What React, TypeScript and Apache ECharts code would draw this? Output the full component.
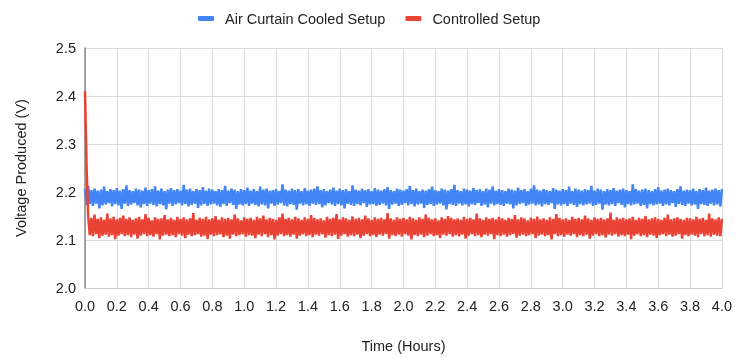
import React, { useEffect, useRef } from "react";
import * as echarts from "echarts";

const sampleStepHours = 0.01;

const airCurtainVoltage = [
  2.206,2.173,2.213,2.175,2.204,2.171,2.207,2.176,2.203,2.166,2.205,2.172,2.211,2.174,2.202,2.177,2.206,2.170,2.204,2.175,
  2.208,2.172,2.203,2.165,2.206,2.176,2.214,2.171,2.204,2.174,2.202,2.177,2.207,2.172,2.205,2.168,2.203,2.175,2.209,2.171,
  2.204,2.176,2.206,2.173,2.212,2.170,2.203,2.175,2.207,2.172,2.202,2.164,2.205,2.176,2.208,2.171,2.204,2.174,2.206,2.177,
  2.203,2.172,2.215,2.175,2.205,2.170,2.207,2.173,2.202,2.176,2.206,2.167,2.204,2.172,2.210,2.175,2.203,2.171,2.207,2.174,
  2.205,2.176,2.202,2.172,2.206,2.169,2.204,2.175,2.213,2.171,2.203,2.177,2.207,2.173,2.205,2.165,2.202,2.174,2.206,2.172,
  2.204,2.175,2.209,2.171,2.203,2.176,2.206,2.173,2.202,2.170,2.211,2.174,2.205,2.172,2.207,2.166,2.203,2.176,2.204,2.171,
  2.206,2.174,2.202,2.177,2.216,2.172,2.205,2.170,2.203,2.175,2.207,2.173,2.204,2.163,2.206,2.176,2.202,2.172,2.208,2.174,
  2.203,2.171,2.205,2.176,2.207,2.173,2.212,2.175,2.204,2.168,2.206,2.172,2.202,2.177,2.205,2.174,2.209,2.171,2.203,2.175,
  2.207,2.172,2.204,2.166,2.206,2.176,2.202,2.173,2.214,2.171,2.205,2.175,2.203,2.172,2.207,2.177,2.204,2.169,2.206,2.174,
  2.202,2.175,2.208,2.171,2.205,2.173,2.203,2.176,2.206,2.172,2.210,2.165,2.204,2.174,2.202,2.176,2.207,2.171,2.205,2.173,
  2.203,2.177,2.206,2.172,2.213,2.175,2.204,2.170,2.207,2.174,2.202,2.176,2.205,2.167,2.203,2.173,2.206,2.175,2.211,2.171,
  2.204,2.174,2.202,2.176,2.207,2.172,2.205,2.164,2.203,2.175,2.206,2.173,2.215,2.171,2.204,2.176,2.202,2.172,2.207,2.174,
  2.205,2.170,2.203,2.175,2.208,2.173,2.204,2.177,2.206,2.171,2.202,2.174,2.207,2.168,2.205,2.176,2.212,2.172,2.203,2.175,
  2.206,2.173,2.204,2.171,2.202,2.176,2.207,2.174,2.205,2.166,2.203,2.172,2.209,2.175,2.204,2.177,2.206,2.171,2.202,2.174,
  2.207,2.176,2.214,2.172,2.205,2.174,2.203,2.170,2.206,2.175,2.204,2.173,2.202,2.177,2.208,2.165,2.205,2.174,2.203,2.172,
  2.206,2.175,2.204,2.171,2.211,2.176,2.202,2.173,2.207,2.169,2.205,2.175,2.203,2.172,2.206,2.174,2.204,2.176,2.213,2.171,
  2.203,2.173,2.207,2.176,2.205,2.163,2.202,2.174,2.206,2.172,2.204,2.175,2.208,2.171,2.203,2.177,2.205,2.173,2.207,2.168,
  2.204,2.175,2.202,2.172,2.216,2.174,2.206,2.176,2.203,2.171,2.205,2.173,2.207,2.166,2.204,2.175,2.202,2.172,2.206,2.174,
  2.210,2.176,2.203,2.171,2.205,2.174,2.207,2.172,2.204,2.177,2.202,2.169,2.206,2.175,2.212,2.173,2.203,2.171,2.205,2.176,
  2.204,2.172,2.207,2.174,2.202,2.165,2.206,2.175,2.204,2.173,2.209,2.171,2.203,2.176,2.205,2.172,2.207,2.174,2.204,2.170,
  2.206,
];

const controlledVoltage = [
  2.410,2.250,2.150,2.110,2.146,2.108,2.153,2.112,2.144,2.104,2.147,2.109,2.142,2.111,2.155,2.107,2.145,2.110,2.148,2.102,
  2.143,2.109,2.146,2.112,2.151,2.108,2.144,2.110,2.147,2.106,2.142,2.111,2.145,2.103,2.148,2.109,2.143,2.112,2.154,2.108,
  2.146,2.110,2.141,2.107,2.147,2.112,2.144,2.101,2.145,2.109,2.152,2.111,2.143,2.108,2.146,2.110,2.142,2.106,2.148,2.112,
  2.144,2.109,2.147,2.104,2.143,2.111,2.145,2.108,2.156,2.110,2.142,2.112,2.146,2.107,2.144,2.109,2.148,2.102,2.143,2.111,
  2.145,2.108,2.150,2.110,2.142,2.112,2.147,2.106,2.144,2.109,2.146,2.103,2.143,2.111,2.153,2.108,2.145,2.110,2.141,2.112,
  2.147,2.107,2.144,2.110,2.146,2.109,2.142,2.104,2.148,2.111,2.145,2.108,2.151,2.112,2.143,2.106,2.146,2.110,2.144,2.101,
  2.142,2.109,2.147,2.112,2.155,2.108,2.144,2.110,2.146,2.107,2.143,2.111,2.148,2.103,2.145,2.109,2.142,2.112,2.147,2.108,
  2.144,2.110,2.152,2.106,2.146,2.111,2.143,2.109,2.145,2.112,2.141,2.105,2.148,2.110,2.144,2.108,2.146,2.111,2.154,2.102,
  2.143,2.109,2.147,2.112,2.145,2.107,2.142,2.110,2.149,2.108,2.144,2.111,2.146,2.104,2.143,2.109,2.151,2.112,2.145,2.108,
  2.142,2.110,2.147,2.106,2.144,2.111,2.146,2.109,2.143,2.112,2.156,2.103,2.145,2.110,2.142,2.108,2.147,2.111,2.144,2.107,
  2.146,2.112,2.143,2.109,2.148,2.101,2.145,2.110,2.142,2.108,2.147,2.111,2.144,2.106,2.153,2.109,2.146,2.112,2.143,2.108,
  2.145,2.110,2.141,2.104,2.147,2.111,2.144,2.109,2.150,2.112,2.146,2.107,2.143,2.110,2.145,2.108,2.142,2.111,2.148,2.103,
  2.144,2.109,2.146,2.112,2.143,2.108,2.155,2.110,2.145,2.106,2.142,2.111,2.147,2.109,2.144,2.112,2.146,2.102,2.143,2.110,
  2.148,2.108,2.145,2.111,2.142,2.107,2.146,2.110,2.144,2.112,2.152,2.105,2.143,2.109,2.147,2.111,2.145,2.108,2.141,2.110,
  2.146,2.112,2.144,2.104,2.149,2.109,2.143,2.111,2.145,2.108,2.142,2.110,2.147,2.101,2.144,2.112,2.154,2.108,2.146,2.110,
  2.143,2.107,2.145,2.111,2.142,2.109,2.148,2.112,2.144,2.106,2.146,2.110,2.143,2.108,2.151,2.111,2.145,2.103,2.142,2.109,
  2.147,2.112,2.144,2.108,2.146,2.110,2.143,2.105,2.145,2.111,2.157,2.109,2.142,2.112,2.147,2.107,2.144,2.110,2.146,2.108,
  2.143,2.111,2.145,2.102,2.148,2.109,2.142,2.112,2.146,2.108,2.144,2.110,2.150,2.106,2.143,2.111,2.145,2.109,2.147,2.104,
  2.144,2.110,2.142,2.112,2.146,2.108,2.153,2.111,2.143,2.107,2.145,2.109,2.147,2.112,2.144,2.103,2.142,2.110,2.146,2.108,
  2.145,2.111,2.143,2.109,2.148,2.106,2.144,2.112,2.146,2.108,2.142,2.110,2.155,2.107,2.145,2.111,2.143,2.109,2.147,2.108,
  2.144,
];

const xMax = 4;
const yMin = 2.0;
const yMax = 2.5;

const toPairs = (vals: number[]) =>
  vals.map((v, i) => [+(i * sampleStepHours).toFixed(2), v]);

export default function App() {
  const ref = useRef<HTMLDivElement>(null);
  useEffect(() => {
    if (!ref.current) return;
    const chart = echarts.init(ref.current, undefined, { renderer: "svg" });
    const font = "Liberation Sans, Arial, sans-serif";
    const fs = 14.5;
    chart.setOption({
      animation: false,
      textStyle: { fontFamily: font },
      legend: {
        top: 6,
        left: 193,
        itemWidth: 16,
        itemHeight: 5,
        itemGap: 20,
        icon: "roundRect",
        textStyle: { fontSize: fs, color: "#222", fontFamily: font, padding: [0, 0, 0, 6] },
        data: ["Air Curtain Cooled Setup", "Controlled Setup"],
      },
      grid: { left: 85, right: 10, top: 48, bottom: 68, containLabel: false },
      xAxis: {
        type: "value",
        min: 0,
        max: xMax,
        interval: 0.2,
        name: "Time (Hours)",
        nameLocation: "middle",
        nameGap: 50,
        nameTextStyle: { fontSize: fs, color: "#222", fontFamily: font },
        axisLine: { show: true, lineStyle: { color: "#cccccc" } },
        axisTick: { show: false },
        axisLabel: {
          fontSize: fs,
          color: "#222",
          margin: 10,
          formatter: (v: number) => v.toFixed(1),
        },
        splitLine: { show: true, lineStyle: { color: "#d9d9d9", width: 1 } },
      },
      yAxis: {
        type: "value",
        min: yMin,
        max: yMax,
        interval: 0.1,
        name: "Voltage Produced (V)",
        nameLocation: "middle",
        nameGap: 57,
        nameTextStyle: { fontSize: fs, color: "#222", fontFamily: font },
        axisLine: { show: true, lineStyle: { color: "#888888", width: 1.5 } },
        axisTick: { show: false },
        axisLabel: {
          fontSize: fs,
          color: "#222",
          margin: 9,
          formatter: (v: number) => v.toFixed(1),
        },
        splitLine: { show: true, lineStyle: { color: "#d9d9d9", width: 1 } },
      },
      series: [
        {
          name: "Air Curtain Cooled Setup",
          type: "line",
          data: toPairs(airCurtainVoltage),
          showSymbol: false,
          symbol: "none",
          lineStyle: { color: "#4285F4", width: 2.5 },
          itemStyle: { color: "#4285F4" },
        },
        {
          name: "Controlled Setup",
          type: "line",
          data: toPairs(controlledVoltage),
          showSymbol: false,
          symbol: "none",
          lineStyle: { color: "#EA4335", width: 2.5 },
          itemStyle: { color: "#EA4335" },
        },
      ],
    });
    return () => chart.dispose();
  }, []);
  return (
    <div
      ref={ref}
      style={{ position: "fixed", left: 0, top: 0, width: 735, height: 358 }}
    />
  );
}
